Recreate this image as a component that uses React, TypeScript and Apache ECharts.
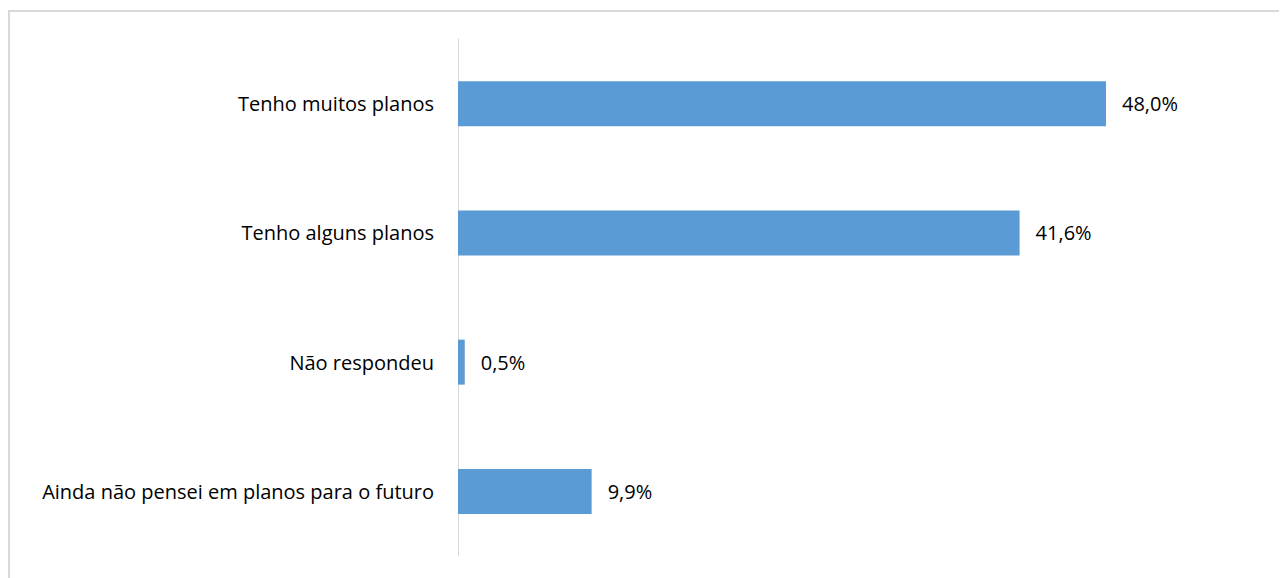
import React, { useEffect, useRef } from "react";
import * as echarts from "echarts";

const categories = [
  "Ainda não pensei em planos para o futuro",
  "Não respondeu",
  "Tenho alguns planos",
  "Tenho muitos planos",
];
const values = [9.9, 0.5, 41.6, 48.0];

export default function App() {
  const ref = useRef<HTMLDivElement>(null);
  useEffect(() => {
    document.body.style.overflow = "hidden";
    const chart = echarts.init(ref.current!, undefined, { renderer: "svg" });
    chart.setOption({
      animation: false,
      graphic: [
        {
          type: "rect",
          shape: { x: 1, y: 3, width: 2000, height: 2000 },
          style: { fill: "none", stroke: "#d9d9d9", lineWidth: 2 },
          silent: true,
        },
      ],
      grid: { left: 450, right: 19, top: 31, bottom: 22, containLabel: false },
      xAxis: {
        type: "value",
        min: 0,
        max: 60,
        show: false,
      },
      yAxis: {
        type: "category",
        data: categories,
        axisLine: { show: true, lineStyle: { color: "#d9d9d9", width: 1 } },
        axisTick: { show: false },
        axisLabel: {
          color: "#000",
          fontFamily: "Open Sans",
          fontSize: 20,
          margin: 24,
        },
      },
      series: [
        {
          type: "bar",
          data: values,
          barWidth: 45,
          itemStyle: { color: "#5B9BD5" },
          label: {
            show: true,
            position: "right",
            distance: 16,
            color: "#000",
            fontFamily: "Open Sans",
            fontSize: 20,
            formatter: (p: any) => p.value.toFixed(1).replace(".", ",") + "%",
          },
        },
      ],
    });
    return () => chart.dispose();
  }, []);
  return <div ref={ref} style={{ width: 1279, height: 570 }} />;
}
